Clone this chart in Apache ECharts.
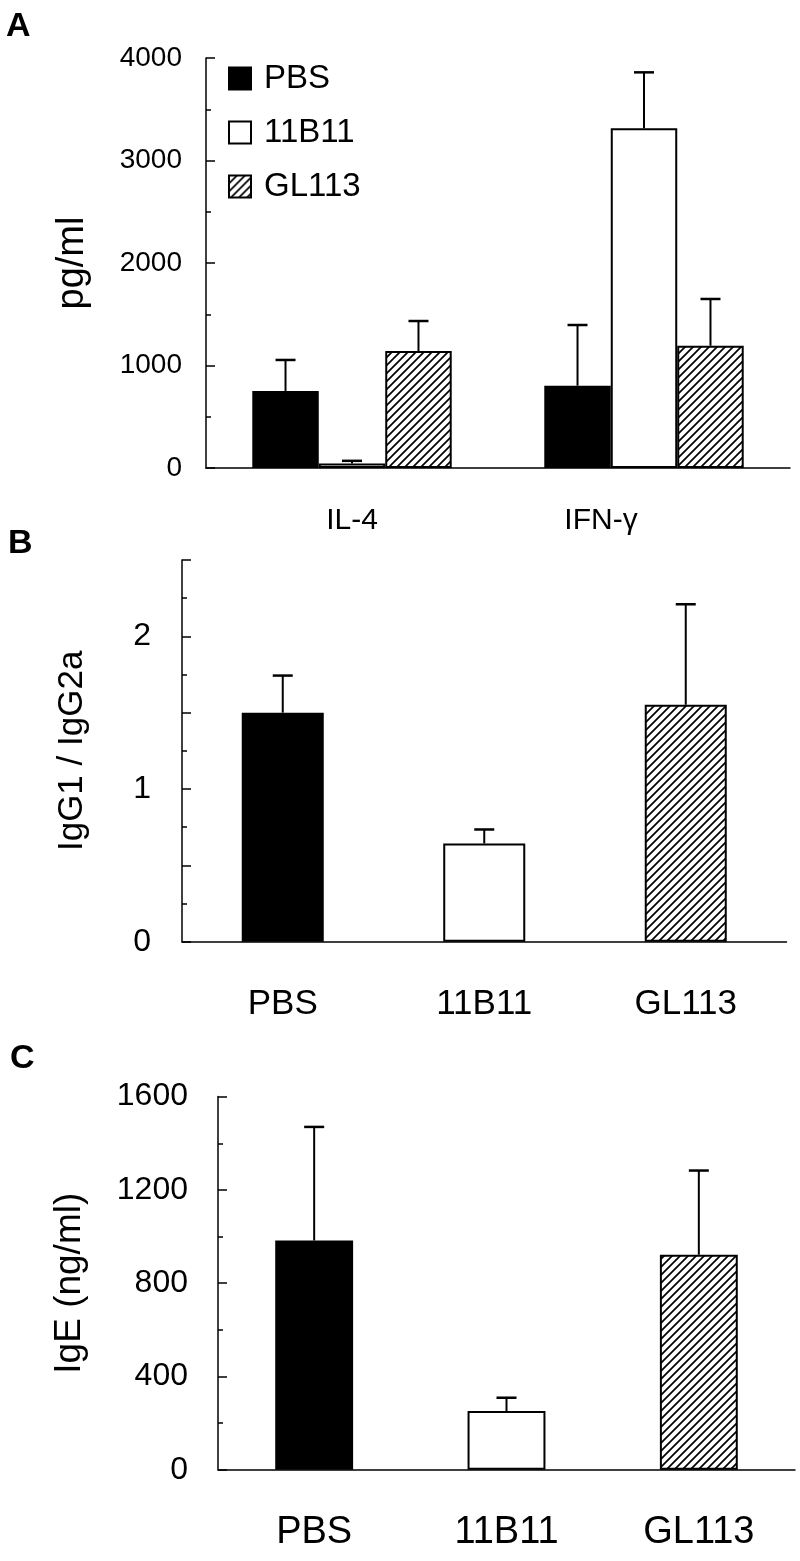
<!DOCTYPE html>
<html>
<head>
<meta charset="utf-8">
<script src="https://cdn.jsdelivr.net/npm/echarts@6/dist/echarts.min.js"></script>
<style>
html,body{margin:0;padding:0;background:#fff;}
#chart{width:800px;height:1561px;}
</style>
</head>
<body>
<div id="chart"></div>
<script>
// ---------- data ----------
const groups = ['PBS', '11B11', 'GL113'];

// Panel A: cytokines (pg/ml)
const catsA = ['IL-4', 'IFN-γ'];
const pbsA = [752, 803];
const pbsASd = [302, 592];
const b11A = [45, 3314];
const b11ASd = [25, 546];
const glA = [1141, 1193];
const glASd = [293, 456];
const ticksA = [0, 1000, 2000, 3000, 4000];

// Panel B: IgG1 / IgG2a
const catsB = ['PBS', '11B11', 'GL113'];
const valB = [1.50, 0.643, 1.552];
const sdB = [0.243, 0.092, 0.658];
const ticksB = [0, 1, 2];

// Panel C: IgE (ng/ml)
const catsC = ['PBS', '11B11', 'GL113'];
const valC = [983, 252, 922];
const sdC = [487, 57, 361];
const ticksC = [0, 400, 800, 1200, 1600];

// ---------- styling helpers ----------
const FONT = 'Liberation Sans, Arial, sans-serif';
function makeHatch() {
  const c = document.createElement('canvas');
  c.width = 8; c.height = 8;
  const g = c.getContext('2d');
  g.fillStyle = '#fff'; g.fillRect(0, 0, 8, 8);
  g.strokeStyle = '#000'; g.lineWidth = 1.7; g.lineCap = 'square';
  g.beginPath();
  g.moveTo(0, 8); g.lineTo(8, 0);
  g.moveTo(-2, 2); g.lineTo(2, -2);
  g.moveTo(6, 10); g.lineTo(10, 6);
  g.stroke();
  return c;
}
const hatch = { image: makeHatch(), repeat: 'repeat' };
const fills = { 'PBS': '#000', '11B11': '#fff', 'GL113': hatch };
function barStyle(name) {
  return { color: fills[name], borderColor: '#000', borderWidth: 2 };
}

function errRender(nSeries, idx, gapFrac) {
  return function (params, api) {
    const cat = api.value(0), lo = api.value(1), hi = api.value(2);
    const band = api.size([1, 0])[0];
    const bw = band * (1 - gapFrac) / nSeries;
    const off = (idx - (nSeries - 1) / 2) * bw;
    const p0 = api.coord([cat, lo]);
    const p1 = api.coord([cat, hi]);
    const x = p0[0] + off;
    return {
      type: 'group',
      children: [
        { type: 'line', shape: { x1: x, y1: p0[1], x2: x, y2: p1[1] }, style: { stroke: '#000', lineWidth: 2 } },
        { type: 'line', shape: { x1: x - 10, y1: p1[1], x2: x + 10, y2: p1[1] }, style: { stroke: '#000', lineWidth: 2.5 } }
      ]
    };
  };
}
function errData(vals, sds) {
  return vals.map((v, i) => [i, v, v + sds[i]]);
}
function yAxisBase(gi, min, max, interval, ticks, fontSize, labelMargin, name, nameGap, nameSize) {
  return {
    type: 'value', gridIndex: gi, min: min, max: max, interval: interval,
    name: name, nameLocation: 'middle', nameGap: nameGap,
    nameTextStyle: { fontFamily: FONT, fontSize: nameSize, color: '#000' },
    axisLine: { show: true, lineStyle: { color: '#000', width: 1.5 } },
    axisTick: { show: true, inside: true, length: 9, lineStyle: { color: '#000', width: 1.5 } },
    minorTick: { show: true, splitNumber: 2, length: 5, lineStyle: { color: '#000', width: 1.5 } },
    splitLine: { show: false }, minorSplitLine: { show: false },
    axisLabel: {
      fontFamily: FONT, fontSize: fontSize, color: '#000', margin: labelMargin,
      formatter: v => (ticks.indexOf(v) >= 0 ? String(v) : '')
    }
  };
}
function xAxisBase(gi, cats, fontSize, margin) {
  return {
    type: 'category', gridIndex: gi, data: cats,
    axisLine: { show: true, lineStyle: { color: '#000', width: 1.5 } },
    axisTick: { show: false },
    axisLabel: { fontFamily: FONT, fontSize: fontSize, color: '#000', margin: margin }
  };
}

const gapA = 0.317, gapB = 0.593, gapC = 0.595;
const letterStyle = { fontFamily: FONT, fontWeight: 'bold', fontSize: 34, color: '#000' };

const xAxisA = xAxisBase(0, catsA, 30, 38);
// the second label sits a little left of its group in the reference figure
xAxisA.axisLabel.formatter = (v, i) => (i === 1 ? '{r|' + v + '}' : '{l|' + v + '}');
xAxisA.axisLabel.rich = {
  l: { fontFamily: FONT, fontSize: 30, color: '#000' },
  r: { fontFamily: FONT, fontSize: 30, color: '#000', padding: [0, 86, 0, 0] }
};

const option = {
  backgroundColor: '#fff',
  animation: false,
  title: [
    { text: 'A', left: 6, top: 10, padding: 0, textStyle: letterStyle },
    { text: 'B', left: 8, top: 527, padding: 0, textStyle: letterStyle },
    { text: 'C', left: 10, top: 1042, padding: 0, textStyle: letterStyle }
  ],
  legend: {
    data: groups, orient: 'vertical', left: 228, top: 62, padding: 0,
    itemWidth: 22, itemHeight: 22, itemGap: 21,
    icon: 'rect',
    textStyle: { fontFamily: FONT, fontSize: 33, color: '#000', padding: [0, 0, 0, 8] }
  },
  grid: [
    { left: 206, top: 58, width: 584, height: 410 },
    { left: 182, top: 560, width: 604.5, height: 381.7 },
    { left: 218, top: 1096.6, width: 577, height: 373.2 }
  ],
  xAxis: [
    xAxisA,
    xAxisBase(1, catsB, 35, 45),
    xAxisBase(2, catsC, 38, 44)
  ],
  yAxis: [
    yAxisBase(0, 0, 4000, 1000, ticksA, 28, 24, 'pg/ml', 114, 38),
    yAxisBase(1, 0, 2.5, 0.5, ticksB, 32, 31, 'IgG1 / IgG2a', 92, 35),
    yAxisBase(2, 0, 1600, 400, ticksC, 32, 30, 'IgE (ng/ml)', 130, 37)
  ],
  series: [
    { name: 'PBS', type: 'bar', xAxisIndex: 0, yAxisIndex: 0, data: pbsA, itemStyle: barStyle('PBS'), barGap: '0%', barCategoryGap: (gapA * 100) + '%' },
    { name: '11B11', type: 'bar', xAxisIndex: 0, yAxisIndex: 0, data: b11A, itemStyle: barStyle('11B11'), barGap: '0%', barCategoryGap: (gapA * 100) + '%' },
    { name: 'GL113', type: 'bar', xAxisIndex: 0, yAxisIndex: 0, data: glA, itemStyle: barStyle('GL113'), barGap: '0%', barCategoryGap: (gapA * 100) + '%' },
    { type: 'custom', xAxisIndex: 0, yAxisIndex: 0, z: 5, renderItem: errRender(3, 0, gapA), data: errData(pbsA, pbsASd) },
    { type: 'custom', xAxisIndex: 0, yAxisIndex: 0, z: 5, renderItem: errRender(3, 1, gapA), data: errData(b11A, b11ASd) },
    { type: 'custom', xAxisIndex: 0, yAxisIndex: 0, z: 5, renderItem: errRender(3, 2, gapA), data: errData(glA, glASd) },

    { type: 'bar', xAxisIndex: 1, yAxisIndex: 1, barCategoryGap: (gapB * 100) + '%',
      data: valB.map((v, i) => ({ value: v, itemStyle: barStyle(catsB[i]) })) },
    { type: 'custom', xAxisIndex: 1, yAxisIndex: 1, z: 5, renderItem: errRender(1, 0, gapB), data: errData(valB, sdB) },

    { type: 'bar', xAxisIndex: 2, yAxisIndex: 2, barCategoryGap: (gapC * 100) + '%',
      data: valC.map((v, i) => ({ value: v, itemStyle: barStyle(catsC[i]) })) },
    { type: 'custom', xAxisIndex: 2, yAxisIndex: 2, z: 5, renderItem: errRender(1, 0, gapC), data: errData(valC, sdC) }
  ]
};

const chart = echarts.init(document.getElementById('chart'), null, { renderer: 'canvas' });
chart.setOption(option);
</script>
</body>
</html>
